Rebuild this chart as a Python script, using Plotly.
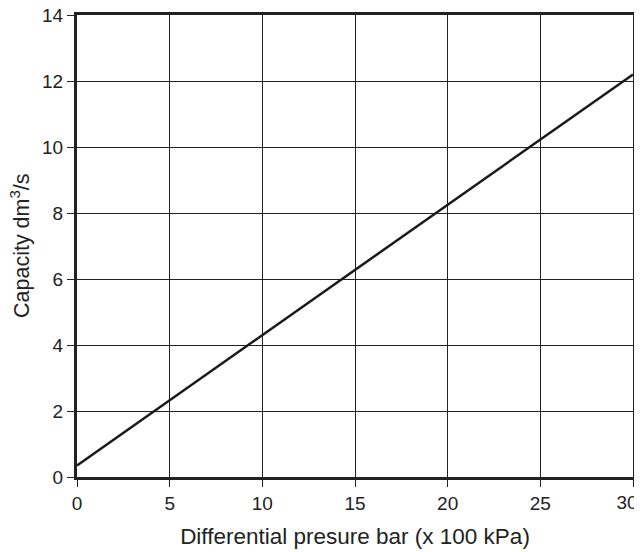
import plotly.graph_objects as go

pressure = [0, 30]
capacity = [0.35, 12.2]
x_ticks = [0, 5, 10, 15, 20, 25]
x_ticks_end = [30]
y_ticks = [0, 2, 4, 6, 8, 10, 12, 14]
x_title = "Differential presure bar (x 100 kPa)"
y_title = "Capacity dm<sup>3</sup>/s"

fig = go.Figure()
fig.add_trace(go.Scatter(x=pressure, y=capacity, mode="lines",
                         line=dict(color="#1a1a1a", width=2.5), showlegend=False))
fig.add_trace(go.Scatter(x=pressure, y=capacity, mode="lines", xaxis="x2",
                         line=dict(color="rgba(0,0,0,0)", width=0), showlegend=False,
                         hoverinfo="skip"))

font = dict(family="Liberation Sans, Arial, sans-serif", size=19, color="#222")
xtfont = dict(family="Liberation Sans, Arial, sans-serif", size=22.5, color="#222")
ytfont = dict(family="Liberation Sans, Arial, sans-serif", size=21.5, color="#222")
common = dict(showgrid=True, gridcolor="#222", gridwidth=1,
              showline=True, linecolor="#222", linewidth=3, mirror=True,
              ticks="outside", ticklen=7, tickwidth=1, tickcolor="#222",
              zeroline=False, automargin=False, tickfont=font, ticklabeloverflow="allow")
fig.update_layout(
    width=634, height=544,
    margin=dict(l=69, r=9, t=7, b=75, autoexpand=False),
    paper_bgcolor="white", plot_bgcolor="white",
    font=font,
    xaxis=dict(range=[0, 30], tickvals=x_ticks + x_ticks_end,
               ticktext=[str(v) for v in x_ticks] + [""] * len(x_ticks_end),
               title=dict(text=x_title, standoff=16, font=xtfont), **common),
    xaxis2=dict(range=[0, 30], overlaying="x", side="bottom", anchor="y",
                tickvals=x_ticks_end, ticktext=[str(v) for v in x_ticks_end],
                showgrid=False, showline=False, zeroline=False, ticks="",
                tickfont=font, ticklabelshift=-6, ticklabelstandoff=12,
                ticklabeloverflow="allow", automargin=False),
    yaxis=dict(range=[0, 14], tickvals=y_ticks, **common),
    annotations=[dict(text=y_title, xref="paper", yref="paper", x=0, y=0.5,
                      xanchor="center", yanchor="middle", xshift=-57,
                      textangle=-90, showarrow=False, font=ytfont)],
)
fig.write_html("out.html")
